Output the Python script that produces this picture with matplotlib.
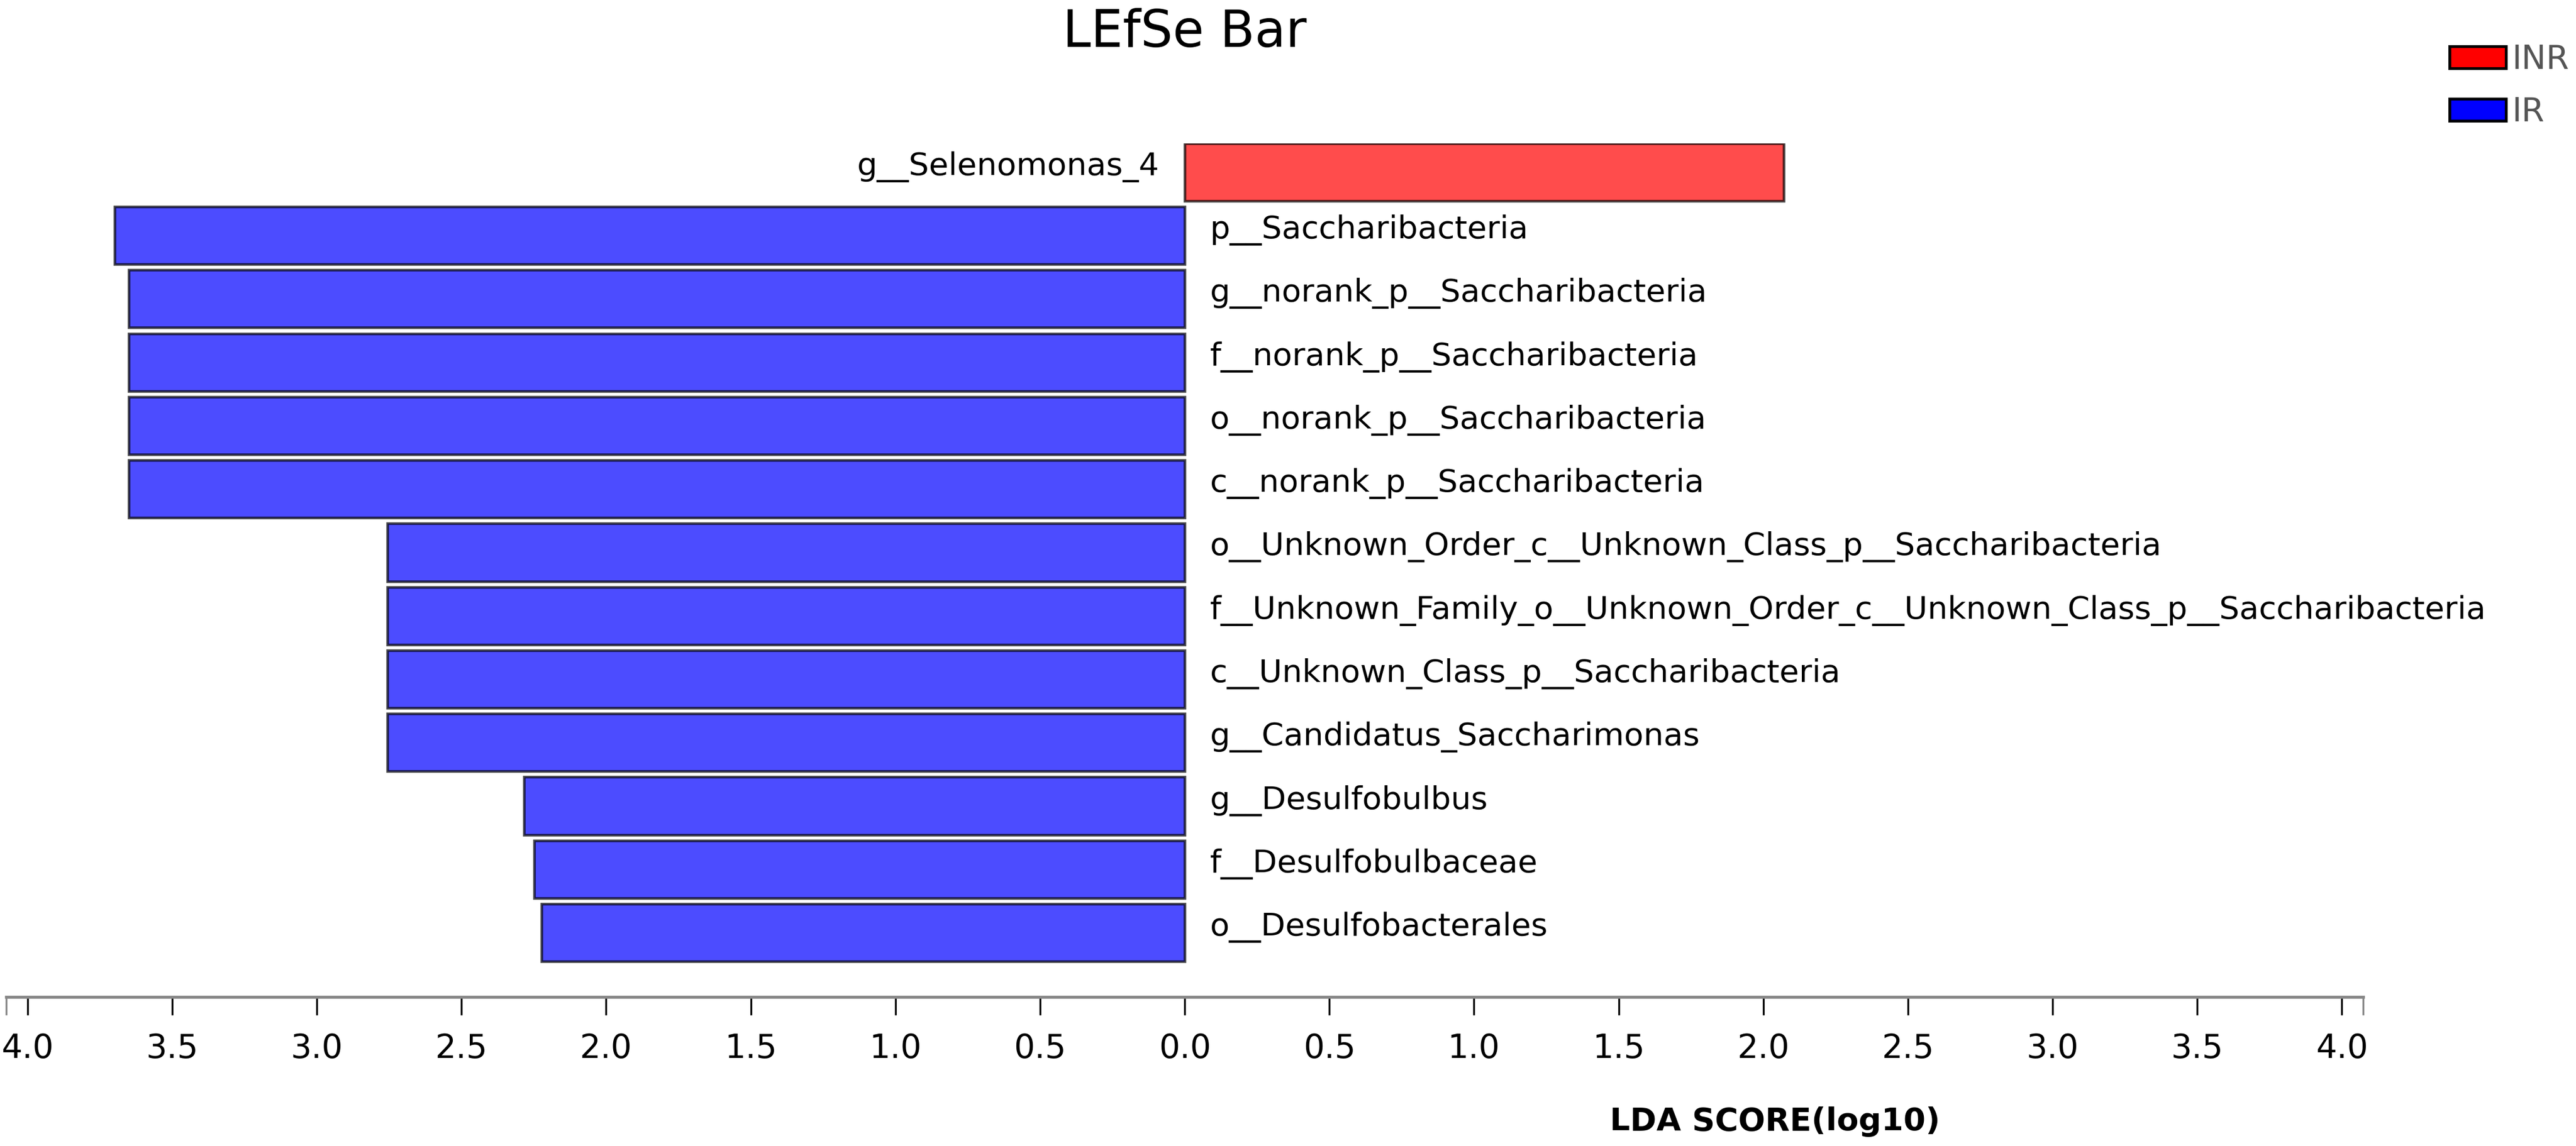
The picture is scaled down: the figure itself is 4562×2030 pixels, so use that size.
import numpy as np
import matplotlib
matplotlib.use("Agg")
import matplotlib.pyplot as plt
from matplotlib.patches import Patch

# taxa from top to bottom, with LDA score and the group it is enriched in
taxa = ["g__Selenomonas_4",
        "p__Saccharibacteria",
        "g__norank_p__Saccharibacteria",
        "f__norank_p__Saccharibacteria",
        "o__norank_p__Saccharibacteria",
        "c__norank_p__Saccharibacteria",
        "o__Unknown_Order_c__Unknown_Class_p__Saccharibacteria",
        "f__Unknown_Family_o__Unknown_Order_c__Unknown_Class_p__Saccharibacteria",
        "c__Unknown_Class_p__Saccharibacteria",
        "g__Candidatus_Saccharimonas",
        "g__Desulfobulbus",
        "f__Desulfobulbaceae",
        "o__Desulfobacterales"]
lda = [2.07, 3.70, 3.65, 3.65, 3.65, 3.65, 2.756, 2.756, 2.756, 2.756, 2.284, 2.249, 2.223]
group = ["INR", "IR", "IR", "IR", "IR", "IR", "IR", "IR", "IR", "IR", "IR", "IR", "IR"]

groups = ["INR", "IR"]
group_colors = {"INR": "r", "IR": "b"}
tick_vals = np.arange(-4.0, 4.01, 0.5)

plt.rcParams['font.family'] = ['DejaVu Sans']
fig = plt.figure(figsize=(4562 / 300, 2030 / 300), dpi=300)
ax = fig.add_axes([0.0024, 0.130, 0.915, 0.745])

n = len(taxa)
ypos = np.arange(n)[::-1]
for y, name, v, g in zip(ypos, taxa, lda, group):
    sign = 1 if g == "INR" else -1
    ax.barh(y, sign * v, height=0.91, left=0, color=group_colors[g], alpha=0.7,
            edgecolor="black", linewidth=1.1)
    if sign > 0:
        ax.text(-0.088, y - 0.045, name, ha="right", va="baseline", fontsize=13.5)
    else:
        ax.text(0.088, y - 0.045, name, ha="left", va="baseline", fontsize=13.5)

xl = 4.074
ax.set_xlim(-xl, xl)
ax.set_ylim(-1.016, n - 1 + 0.455)
ax.set_xticks(tick_vals)
ax.set_xticklabels(["%.1f" % abs(t) for t in tick_vals], fontsize=14)
ax.set_xticks([-xl, xl], minor=True)
ax.tick_params(axis="x", which="major", direction="out", length=7.7, width=0.8,
               color="black", pad=7.5)
ax.tick_params(axis="x", which="minor", direction="out", length=7.7, width=0.8,
               color="#888888")
ax.set_yticks([])
for s in ["top", "left", "right"]:
    ax.spines[s].set_visible(False)
ax.spines["bottom"].set_color("#888888")
ax.spines["bottom"].set_linewidth(1.3)

fig.text(2098 / 4562, 0.959, "LEfSe Bar", ha="center", va="baseline", fontsize=21.5)
fig.text(0.689, 0.021, "LDA SCORE(log10)", ha="center", va="center",
         fontsize=13.5, fontweight="bold")

handles = [Patch(facecolor=group_colors[g], edgecolor="black", linewidth=1.2, label=g)
           for g in groups]
leg = fig.legend(handles=handles, loc="upper left", bbox_to_anchor=(0.951, 0.962),
                 frameon=False, fontsize=14, handlelength=1.7, handleheight=0.65,
                 handletextpad=0.19, labelspacing=0.62, borderpad=0, borderaxespad=0)
for t in leg.get_texts():
    t.set_color("#555555")

fig.savefig("out.png", dpi=300)
